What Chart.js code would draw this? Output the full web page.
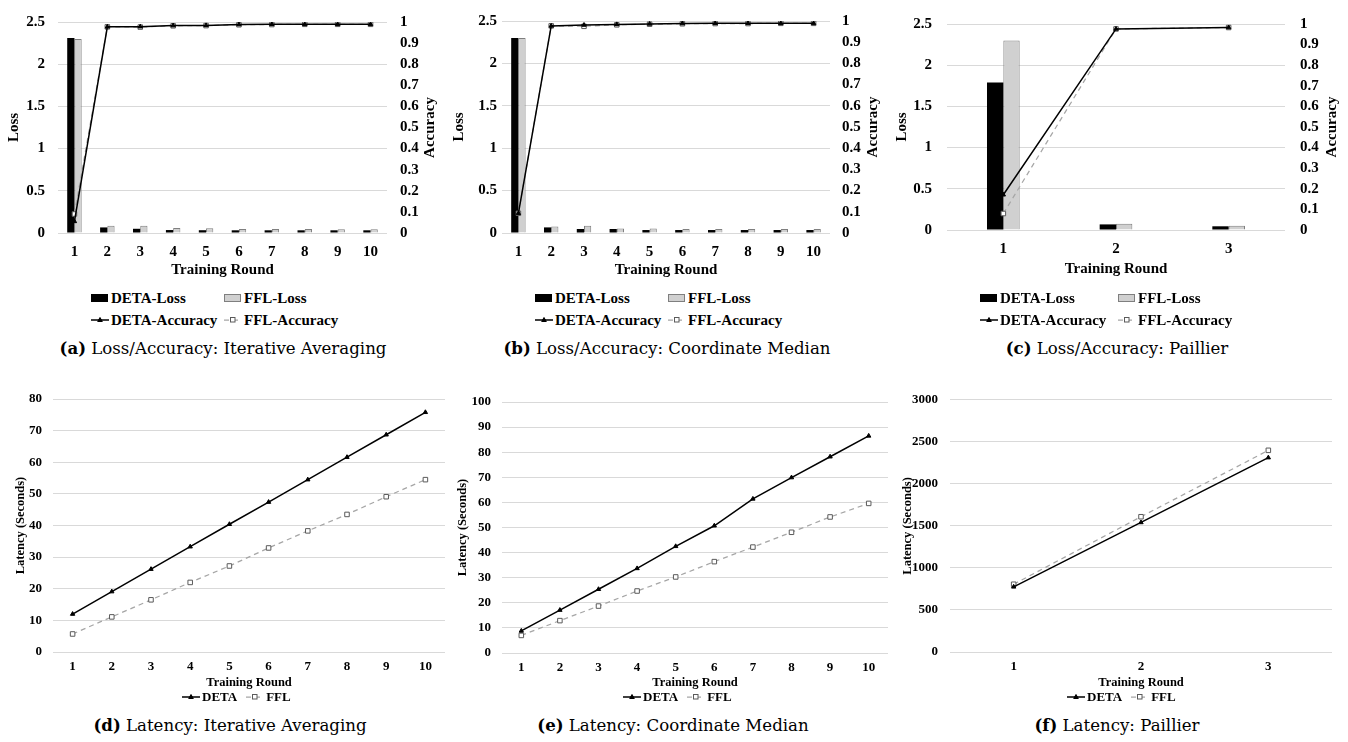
<!DOCTYPE html>
<html>
<head>
<meta charset="utf-8">
<script src="https://cdn.jsdelivr.net/npm/chart.js@4.4.0/dist/chart.umd.min.js"></script>
<style>
  body { margin: 0; background: #fff; width: 1348px; height: 742px; position: relative; overflow: hidden; }
  canvas { position: absolute; }
  .cap { position: absolute; width: 420px; text-align: center; font-family: "DejaVu Serif"; font-size: 16.6px; line-height: 20px; white-space: nowrap; color: #000; }
  .cap b { font-weight: bold; }
  .leg { position: absolute; font-family: "Liberation Serif"; font-weight: bold; color: #000; white-space: nowrap; }
  .leg span { display: inline-flex; align-items: center; }
  .leg svg { margin-right: 2px; }
  .legTop { display: grid; font-size: 15px; grid-auto-rows: 22px; align-items: center; }
  .legBot { display: flex; gap: 9px; font-size: 13px; line-height: 16px; }
</style>
</head>
<body>
<canvas id="cA" width="450" height="283" style="left:0;top:0"></canvas>
<canvas id="cB" width="450" height="283" style="left:450px;top:0"></canvas>
<canvas id="cC" width="455" height="282" style="left:893px;top:0"></canvas>
<canvas id="cD" width="450" height="315" style="left:0;top:380px"></canvas>
<canvas id="cE" width="450" height="315" style="left:450px;top:380px"></canvas>
<canvas id="cF" width="448" height="315" style="left:900px;top:380px"></canvas>

<div class="leg legTop" id="lA" style="left:91px;top:287px;grid-template-columns:133px 133px"></div>
<div class="leg legTop" id="lB" style="left:535px;top:287px;grid-template-columns:133px 133px"></div>
<div class="leg legTop" id="lC" style="left:980px;top:287px;grid-template-columns:138px 138px"></div>
<div class="leg legBot" id="lD" style="left:182px;top:689px"></div>
<div class="leg legBot" id="lE" style="left:623px;top:689px"></div>
<div class="leg legBot" id="lF" style="left:1067px;top:689px"></div>

<div class="cap" style="left:13px;top:338px"><b>(a)</b> Loss/Accuracy: Iterative Averaging</div>
<div class="cap" style="left:457px;top:338px"><b>(b)</b> Loss/Accuracy: Coordinate Median</div>
<div class="cap" style="left:907px;top:338px"><b>(c)</b> Loss/Accuracy: Paillier</div>
<div class="cap" style="left:20px;top:715px"><b>(d)</b> Latency: Iterative Averaging</div>
<div class="cap" style="left:463px;top:715px"><b>(e)</b> Latency: Coordinate Median</div>
<div class="cap" style="left:907px;top:715px"><b>(f)</b> Latency: Paillier</div>

<script>
// rounds
const rounds10 = ['1', '2', '3', '4', '5', '6', '7', '8', '9', '10'];
const rounds3 = ['1', '2', '3'];

// (a) iterative averaging
const avgDetaLoss = [2.31, 0.066, 0.05, 0.035, 0.033, 0.032, 0.032, 0.032, 0.032, 0.032];
const avgFflLoss = [2.30, 0.086, 0.086, 0.058, 0.055, 0.047, 0.047, 0.047, 0.045, 0.045];
const avgDetaAcc = [0.055, 0.977, 0.978, 0.983, 0.984, 0.988, 0.989, 0.989, 0.989, 0.989];
const avgFflAcc = [0.09, 0.977, 0.976, 0.982, 0.983, 0.987, 0.988, 0.989, 0.989, 0.989];

// (b) coordinate median
const medDetaLoss = [2.30, 0.066, 0.047, 0.047, 0.035, 0.035, 0.035, 0.035, 0.035, 0.035];
const medFflLoss = [2.30, 0.078, 0.086, 0.054, 0.054, 0.047, 0.047, 0.047, 0.047, 0.047];
const medDetaAcc = [0.093, 0.977, 0.981, 0.984, 0.986, 0.988, 0.989, 0.989, 0.989, 0.989];
const medFflAcc = [0.093, 0.977, 0.975, 0.982, 0.985, 0.987, 0.988, 0.988, 0.989, 0.989];

// (c) paillier
const paiDetaLoss = [1.79, 0.068, 0.045];
const paiFflLoss = [2.30, 0.076, 0.053];
const paiDetaAcc = [0.171, 0.976, 0.983];
const paiFflAcc = [0.08, 0.976, 0.983];

// latency (seconds)
const latAvgDeta = [12.0, 19.1, 26.2, 33.3, 40.4, 47.4, 54.5, 61.6, 68.7, 75.8];
const latAvgFfl = [5.7, 11.1, 16.5, 22.0, 27.2, 32.9, 38.3, 43.5, 49.1, 54.5];
const latMedDeta = [8.8, 17.1, 25.4, 33.7, 42.5, 50.7, 61.4, 69.9, 78.2, 86.5];
const latMedFfl = [7.0, 12.9, 18.7, 24.7, 30.3, 36.4, 42.2, 48.1, 54.2, 59.6];
const latPaiDeta = [775, 1541, 2312];
const latPaiFfl = [806, 1609, 2399];

const GRID = '#d9d9d9';
const FFL_LINE = '#a6a6a6';
const big = { family: 'Liberation Serif', weight: 'bold', size: 15 };
const small = { family: 'Liberation Serif', weight: 'bold', size: 13 };
const smallTitle = { family: 'Liberation Serif', weight: 'bold', size: 12.5 };
const plain = v => String(+v.toFixed(2));

// right axis title, reading bottom to top like the left one
const sideTitle = {
    id: 'sideTitle',
    afterDraw(chart, args, opts) {
        if (!opts.text) return;
        const s = chart.scales.acc;
        const ctx = chart.ctx;
        ctx.save();
        ctx.translate(s.right - opts.offset, (s.top + s.bottom) / 2);
        ctx.rotate(-Math.PI / 2);
        ctx.font = 'bold 15px "Liberation Serif"';
        ctx.fillStyle = '#000';
        ctx.textAlign = 'center';
        ctx.textBaseline = 'middle';
        ctx.fillText(opts.text, 0, 0);
        ctx.restore();
    }
};

function detaLine(label, data, axis) {
    return {
        type: 'line', label: label, data: data, yAxisID: axis,
        borderColor: '#000', borderWidth: 1.5, backgroundColor: '#000',
        pointStyle: 'triangle', pointRadius: 2.5, pointBackgroundColor: '#000', pointBorderColor: '#000',
        pointBorderWidth: 1, order: 0
    };
}

function fflLine(label, data, axis) {
    return {
        type: 'line', label: label, data: data, yAxisID: axis,
        borderColor: FFL_LINE, borderWidth: 1.25, borderDash: [5, 4], backgroundColor: '#fff',
        pointStyle: 'rect', pointRadius: 3.2, pointBackgroundColor: '#fff', pointBorderColor: '#5a5a5a',
        pointBorderWidth: 1, order: 1
    };
}

function lossAccChart(id, labels, detaLoss, fflLoss, detaAcc, fflAcc, g) {
    return new Chart(document.getElementById(id), {
        type: 'bar',
        data: {
            labels: labels,
            datasets: [
                { label: 'DETA-Loss', data: detaLoss, yAxisID: 'loss', backgroundColor: '#000', borderColor: '#000',
                  borderWidth: 0, order: 2, categoryPercentage: g.cat, barPercentage: 1 },
                { label: 'FFL-Loss', data: fflLoss, yAxisID: 'loss', backgroundColor: '#d0d0d0', borderColor: '#7f7f7f',
                  borderWidth: 1, order: 2, categoryPercentage: g.cat, barPercentage: 1 },
                detaLine('DETA-Accuracy', detaAcc, 'acc'),
                fflLine('FFL-Accuracy', fflAcc, 'acc')
            ]
        },
        options: {
            responsive: false,
            animation: false,
            events: [],
            layout: { padding: { top: g.top, left: 0, right: 0, bottom: 0 } },
            plugins: {
                legend: { display: false },
                tooltip: { enabled: false },
                sideTitle: { text: 'Accuracy', offset: g.accTitle }
            },
            scales: {
                x: {
                    grid: { display: false, drawTicks: false },
                    border: { display: false },
                    ticks: { font: big, color: '#000', padding: g.xpad, maxRotation: 0, autoSkip: false },
                    title: { display: true, text: 'Training Round', font: big, color: '#000', padding: { top: 0, bottom: 4 } },
                    afterFit: s => { s.height = g.xh; }
                },
                loss: {
                    position: 'left', min: 0, max: 2.5,
                    grid: { color: GRID, drawTicks: false },
                    border: { display: false },
                    ticks: { stepSize: 0.5, font: big, color: '#000', padding: g.lpad, autoSkip: false, callback: plain },
                    title: { display: true, text: 'Loss', font: big, color: '#000', padding: { top: g.lossTitle, bottom: 0 } },
                    afterFit: s => { s.width = g.lw; }
                },
                acc: {
                    position: 'right', min: 0, max: 1,
                    grid: { display: false, drawTicks: false },
                    border: { display: false },
                    ticks: { stepSize: 0.1, font: big, color: '#000', padding: g.rpad, autoSkip: false, callback: plain },
                    afterFit: s => { s.width = g.rw; }
                }
            }
        },
        plugins: [sideTitle]
    });
}

function latencyChart(id, labels, deta, ffl, g) {
    return new Chart(document.getElementById(id), {
        type: 'line',
        data: {
            labels: labels,
            datasets: [detaLine('DETA', deta, 'y'), fflLine('FFL', ffl, 'y')]
        },
        options: {
            responsive: false,
            animation: false,
            events: [],
            layout: { padding: { top: g.top, left: 0, right: g.right, bottom: 0 } },
            plugins: { legend: { display: false }, tooltip: { enabled: false } },
            scales: {
                x: {
                    offset: true,
                    grid: { display: false, drawTicks: false },
                    border: { display: false },
                    ticks: { font: small, color: '#000', padding: 7, maxRotation: 0, autoSkip: false },
                    title: { display: true, text: 'Training Round', font: smallTitle, color: '#000', padding: { top: 0, bottom: 4.5 } },
                    afterFit: s => { s.height = g.xh; }
                },
                y: {
                    min: 0, max: g.max,
                    grid: { color: GRID, drawTicks: false },
                    border: { display: false },
                    ticks: { stepSize: g.step, font: small, color: '#000', padding: g.lpad, autoSkip: false,
                             callback: plain },
                    title: { display: true, text: 'Latency (Seconds)', font: smallTitle, color: '#000',
                             padding: { top: g.yTitle, bottom: 0 } },
                    afterFit: s => { s.width = g.lw; }
                }
            }
        }
    });
}

function swatch(ds) {
    const ns = 'http://www.w3.org/2000/svg';
    const svg = document.createElementNS(ns, 'svg');
    svg.setAttribute('width', 18);
    svg.setAttribute('height', 8);
    if (ds.type === 'line') {
        const ln = document.createElementNS(ns, 'line');
        ln.setAttribute('x1', 0); ln.setAttribute('x2', 18);
        ln.setAttribute('y1', 4); ln.setAttribute('y2', 4);
        ln.setAttribute('stroke', ds.borderColor);
        ln.setAttribute('stroke-width', ds.borderWidth);
        if (ds.borderDash) ln.setAttribute('stroke-dasharray', ds.borderDash.join(' '));
        svg.appendChild(ln);
        let m;
        if (ds.pointStyle === 'triangle') {
            m = document.createElementNS(ns, 'polygon');
            m.setAttribute('points', '9,1.5 11.3,5.5 6.7,5.5');
        } else {
            m = document.createElementNS(ns, 'rect');
            m.setAttribute('x', 6.5); m.setAttribute('y', 1.5);
            m.setAttribute('width', 4.5); m.setAttribute('height', 4.5);
        }
        m.setAttribute('fill', ds.pointBackgroundColor);
        m.setAttribute('stroke', ds.pointBorderColor);
        m.setAttribute('stroke-width', 1);
        svg.appendChild(m);
    } else {
        const r = document.createElementNS(ns, 'rect');
        r.setAttribute('x', 0.5); r.setAttribute('y', 0.5);
        r.setAttribute('width', 16); r.setAttribute('height', 7);
        r.setAttribute('fill', ds.backgroundColor);
        r.setAttribute('stroke', ds.borderWidth ? ds.borderColor : ds.backgroundColor);
        svg.appendChild(r);
    }
    return svg;
}

function buildLegend(elId, chart) {
    const el = document.getElementById(elId);
    chart.data.datasets.forEach(ds => {
        const item = document.createElement('span');
        item.appendChild(swatch(ds));
        item.appendChild(document.createTextNode(ds.label));
        el.appendChild(item);
    });
}

const chA = lossAccChart('cA', rounds10, avgDetaLoss, avgFflLoss, avgDetaAcc, avgFflAcc,
    { top: 19, xh: 50, xpad: 10, lw: 58, lpad: 13, lossTitle: 5, rw: 63, rpad: 13, accTitle: 20, cat: 0.44 });
const chB = lossAccChart('cB', rounds10, medDetaLoss, medFflLoss, medDetaAcc, medFflAcc,
    { top: 19, xh: 50, xpad: 10, lw: 52, lpad: 5, lossTitle: 0, rw: 70, rpad: 12, accTitle: 27, cat: 0.44 });
const chC = lossAccChart('cC', rounds3, paiDetaLoss, paiFflLoss, paiDetaAcc, paiFflAcc,
    { top: 10, xh: 52, xpad: 10, lw: 54, lpad: 15, lossTitle: 0, rw: 63, rpad: 15, accTitle: 16, cat: 0.29 });

const chD = latencyChart('cD', rounds10, latAvgDeta, latAvgFfl,
    { top: 19, right: 5, xh: 43, lw: 53, lpad: 11, yTitle: 13.5, max: 80, step: 10 });
const chE = latencyChart('cE', rounds10, latMedDeta, latMedFfl,
    { top: 22, right: 12, xh: 42, lw: 52, lpad: 11, yTitle: 5.5, max: 100, step: 10 });
const chF = latencyChart('cF', rounds3, latPaiDeta, latPaiFfl,
    { top: 19, right: 16, xh: 43, lw: 50, lpad: 12, yTitle: 0.5, max: 3000, step: 500 });

buildLegend('lA', chA);
buildLegend('lB', chB);
buildLegend('lC', chC);
buildLegend('lD', chD);
buildLegend('lE', chE);
buildLegend('lF', chF);
</script>
</body>
</html>
